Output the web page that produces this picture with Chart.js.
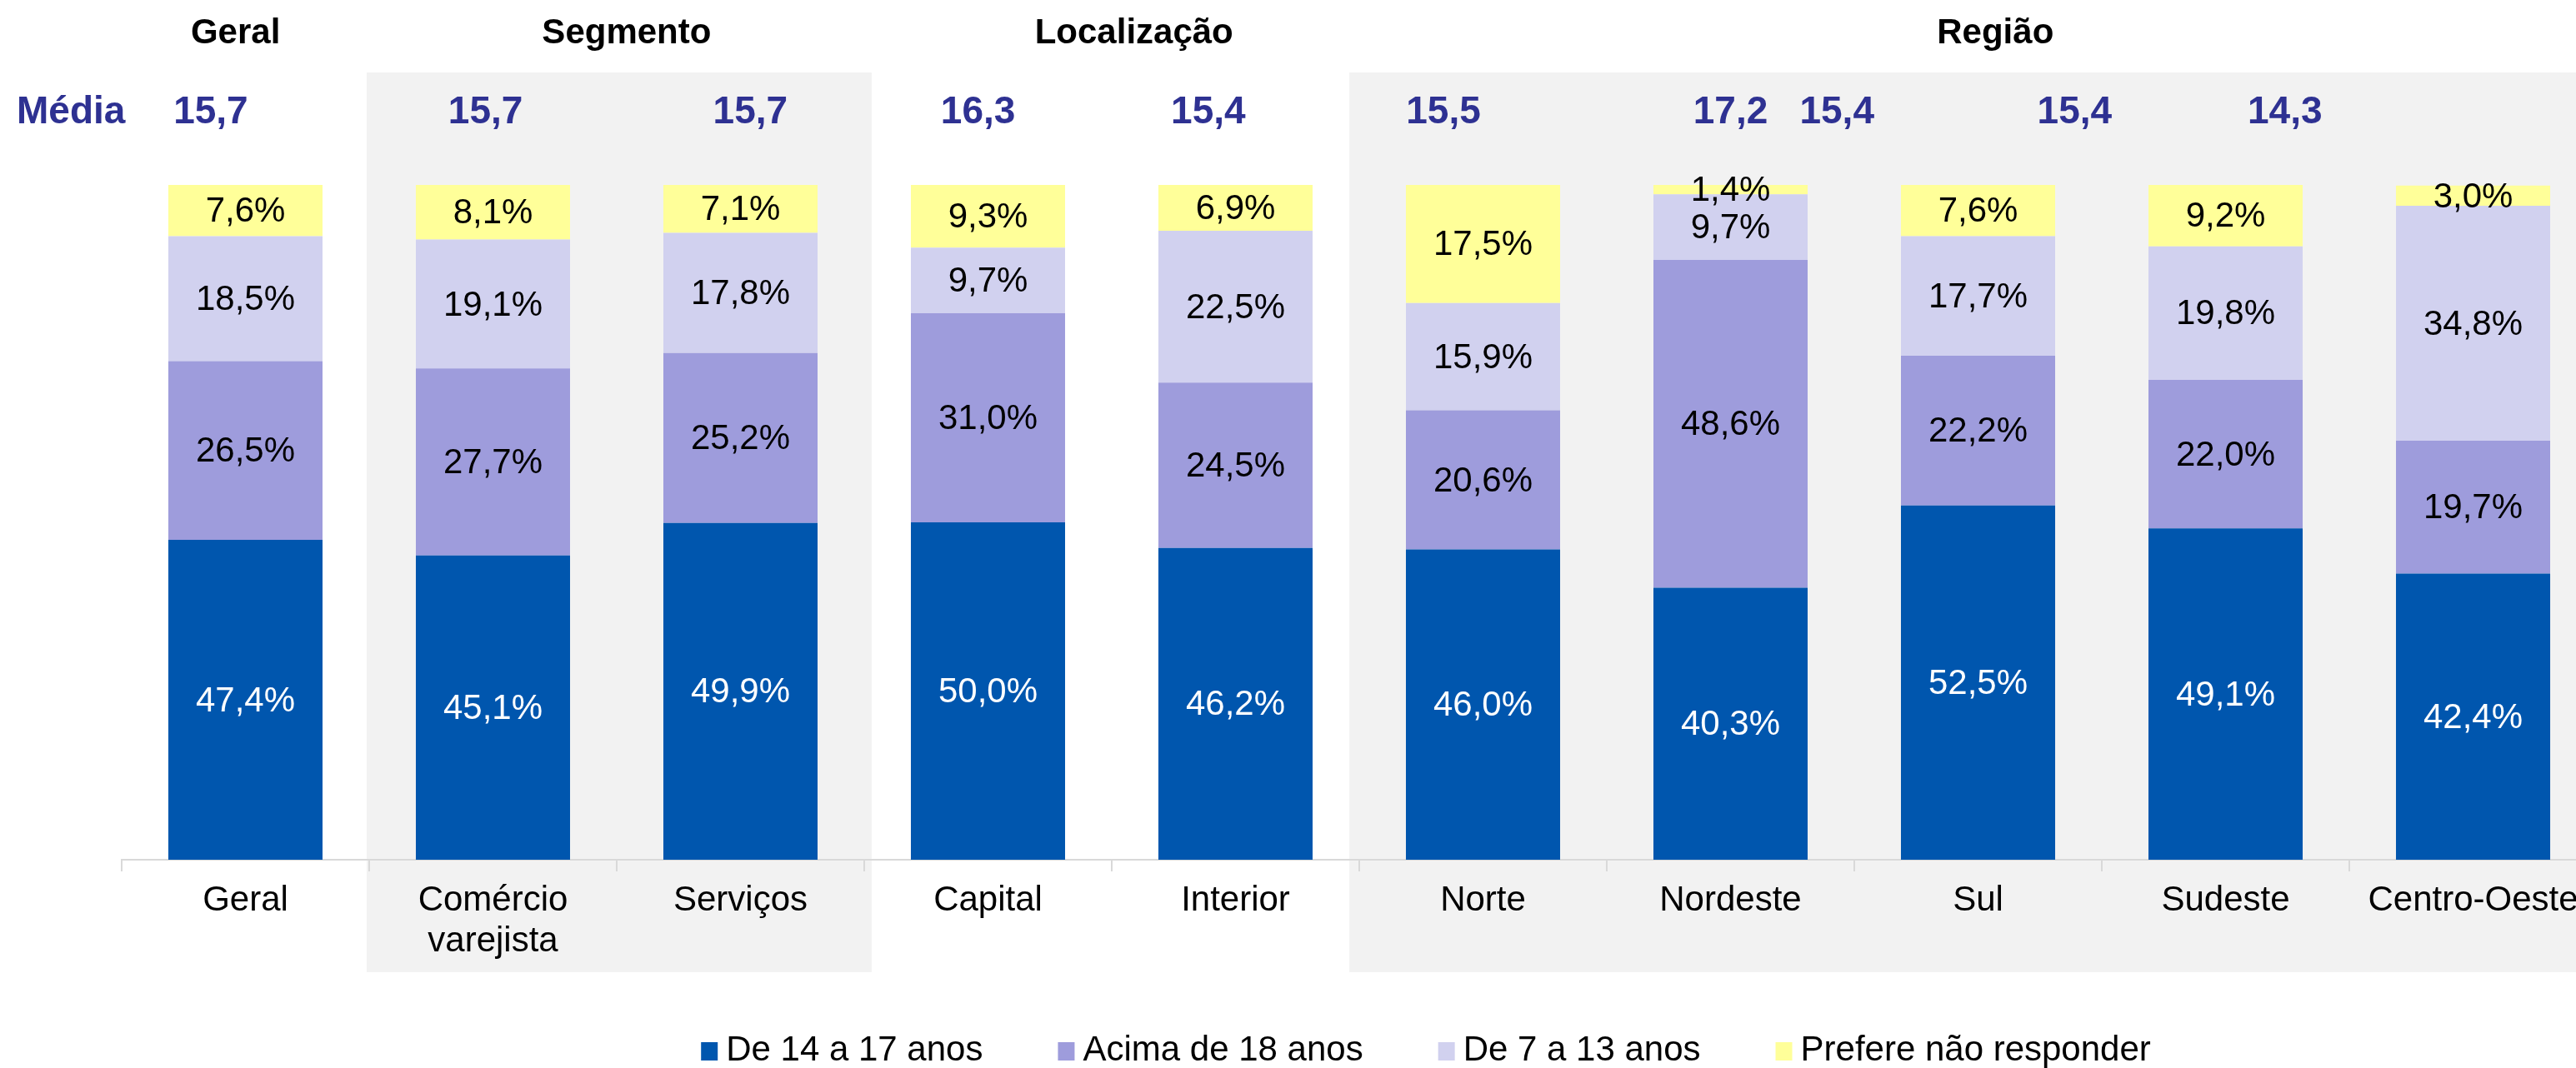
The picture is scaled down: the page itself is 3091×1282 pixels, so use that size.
<!DOCTYPE html>
<html lang="pt-BR">
<head>
<meta charset="utf-8">
<title>Idade de início</title>
<script src="https://cdn.jsdelivr.net/npm/chart.js@4.4.1/dist/chart.umd.min.js"></script>
<style>
  html, body { margin: 0; padding: 0; background: #fff; overflow: hidden; }
  #wrap { position: relative; width: 3422px; height: 1282px; }
</style>
</head>
<body>
<div id="wrap"><canvas id="chart"></canvas></div>
<script>
'use strict';

// ── Data ────────────────────────────────────────────────────
const categories = ['Geral', ['Comércio', 'varejista'], 'Serviços', 'Capital', 'Interior',
                    'Norte', 'Nordeste', 'Sul', 'Sudeste', 'Centro-Oeste'];
const de14a17  = [47.4, 45.1, 49.9, 50.0, 46.2, 46.0, 40.3, 52.5, 49.1, 42.4];
const acima18  = [26.5, 27.7, 25.2, 31.0, 24.5, 20.6, 48.6, 22.2, 22.0, 19.7];
const de7a13   = [18.5, 19.1, 17.8,  9.7, 22.5, 15.9,  9.7, 17.7, 19.8, 34.8];
const naoResp  = [ 7.6,  8.1,  7.1,  9.3,  6.9, 17.5,  1.4,  7.6,  9.2,  3.0];
const media    = [15.7, 15.7, 15.7, 16.3, 15.4, 15.5, 17.2, 15.4, 15.4, 14.3];
const groups   = ['Geral', 'Segmento', 'Localização', 'Região'];

// ── Layout (in category units of the x scale) ───────────────
const mediaPos = [-0.14, 0.97, 2.04, 2.96, 3.89, 4.84, 6.0, 6.43, 7.39, 8.24];
const groupPos = [-0.04, 1.54, 3.59, 7.07];
const bands    = [[0.49, 2.53], [4.46, 9.9]];

const FONT  = '"Liberation Sans", Arial, sans-serif';
const NAVY  = '#2E3192';
const fmt   = v => v.toFixed(1).replace('.', ',');

// ── Plugin: grey bands, headers, value labels, legend ───────
const decor = {
  id: 'decor',
  beforeDraw(chart) {
    const { ctx, chartArea, scales: { x } } = chart;
    ctx.save();
    ctx.fillStyle = '#F2F2F2';
    bands.forEach(([a, b]) => {
      const l = x.getPixelForValue(a);
      const r = x.getPixelForValue(b);
      ctx.fillRect(l, chartArea.top - 135, r - l, chartArea.bottom - chartArea.top + 270);
    });
    ctx.restore();
  },
  afterDatasetsDraw(chart) {
    const { ctx, scales: { x } } = chart;
    ctx.save();

    // value labels centred in each segment
    ctx.font = `42px ${FONT}`;
    ctx.textAlign = 'center';
    ctx.textBaseline = 'middle';
    chart.data.datasets.forEach((ds, di) => {
      const meta = chart.getDatasetMeta(di);
      meta.data.forEach((el, i) => {
        ctx.fillStyle = di === 0 ? '#FFFFFF' : '#000000';
        ctx.fillText(fmt(ds.data[i]) + '%', el.x, (el.y + el.base) / 2 + 2);
      });
    });

    // group titles
    ctx.textBaseline = 'alphabetic';
    ctx.font = `bold 42px ${FONT}`;
    ctx.fillStyle = '#000000';
    groups.forEach((g, i) => ctx.fillText(g, x.getPixelForValue(groupPos[i]), 52));

    // média row
    ctx.font = `bold 46px ${FONT}`;
    ctx.fillStyle = NAVY;
    media.forEach((m, i) => ctx.fillText(fmt(m), x.getPixelForValue(mediaPos[i]), 148));
    ctx.textAlign = 'left';
    ctx.fillText('Média', 20, 148);

    ctx.restore();
  },
  afterDraw(chart) {
    // legend row: square, small gap, text; items 90px apart, centred on canvas
    const { ctx } = chart;
    const sets = chart.data.datasets;
    ctx.save();
    ctx.font = `42px ${FONT}`;
    ctx.textBaseline = 'middle';
    ctx.textAlign = 'left';
    const widths = sets.map(ds => 30 + ctx.measureText(ds.label).width);
    const total = widths.reduce((a, b) => a + b, 0) + 90 * (sets.length - 1);
    let cx = chart.width / 2 - total / 2;
    const cy = 1261;
    sets.forEach((ds, i) => {
      ctx.fillStyle = ds.backgroundColor;
      ctx.fillRect(cx, cy - 10, 20, 22);
      ctx.fillStyle = '#000';
      ctx.fillText(ds.label, cx + 30, cy);
      cx += widths[i] + 90;
    });
    ctx.restore();
  }
};

const mkSet = (label, data, color) => ({
  label, data,
  backgroundColor: color,
  borderWidth: 0,
  categoryPercentage: 1,
  barPercentage: 0.623
});

new Chart(document.getElementById('chart'), {
  type: 'bar',
  data: {
    labels: categories,
    datasets: [
      mkSet('De 14 a 17 anos', de14a17, '#0056AE'),
      mkSet('Acima de 18 anos', acima18, '#9E9CDC'),
      mkSet('De 7 a 13 anos', de7a13, '#D1D1EF'),
      mkSet('Prefere não responder', naoResp, '#FFFF99')
    ]
  },
  options: {
    responsive: true,
    maintainAspectRatio: false,
    animation: false,
    layout: { padding: { top: 222, bottom: 0, left: 0, right: 0 } },
    plugins: {
      tooltip: { enabled: false },
      legend: { display: false }
    },
    scales: {
      x: {
        stacked: true,
        grid: {
          display: true,
          drawOnChartArea: false,
          drawTicks: true,
          tickLength: 14,
          color: '#D9D9D9',
          lineWidth: 2,
          offset: true
        },
        border: { display: true, color: '#D9D9D9', width: 2 },
        ticks: {
          color: '#000',
          font: { family: FONT, size: 42, lineHeight: 1.17 },
          padding: 11,
          maxRotation: 0,
          autoSkip: false
        },
        afterFit: s => { s.height = 250; }
      },
      y: {
        stacked: true,
        min: 0,
        max: 100,
        grid: { display: false },
        border: { display: false },
        ticks: { display: false },
        afterFit: s => { s.width = 146; }
      },
      y2: {
        position: 'right',
        grid: { display: false },
        border: { display: false },
        ticks: { display: false },
        afterFit: s => { s.width = 306; }
      }
    }
  },
  plugins: [decor]
});
</script>
</body>
</html>
